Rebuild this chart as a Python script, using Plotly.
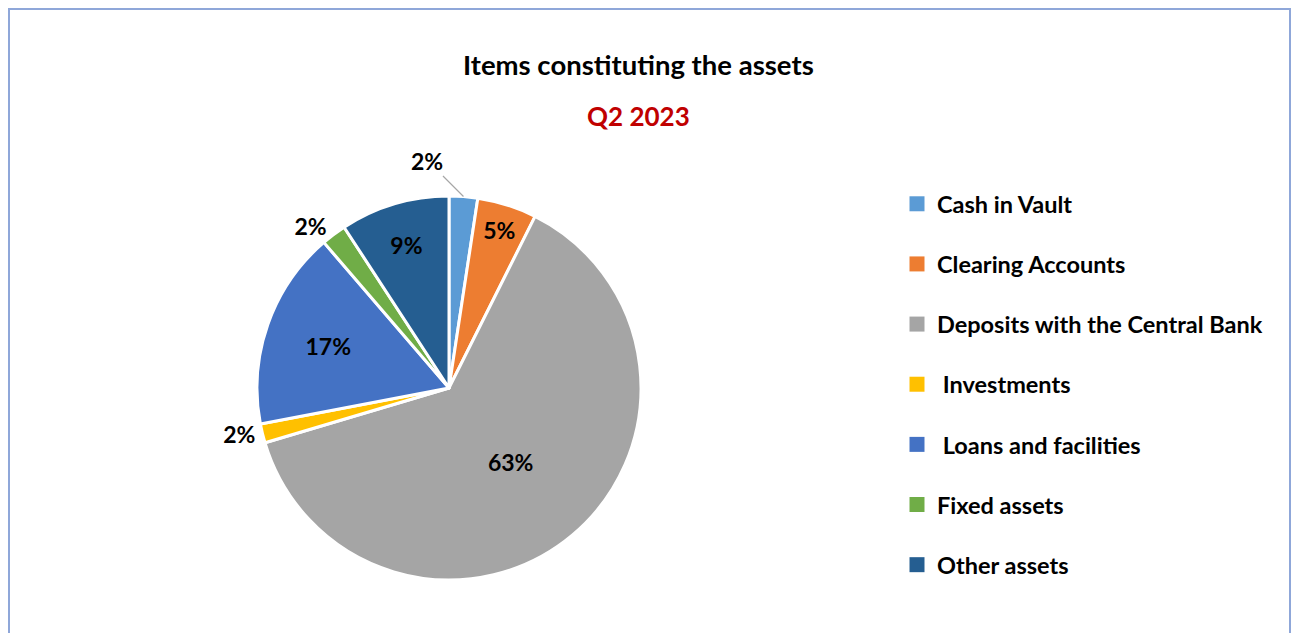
import math
import plotly.graph_objects as go

categories = ["Cash in Vault", "Clearing Accounts", "Deposits with the Central Bank",
              " Investments", " Loans and facilities", "Fixed assets", "Other assets"]
values = [2.4, 5.0, 63.0, 1.6, 16.7, 2.1, 9.2]
colors = ["#5B9BD5", "#ED7D31", "#A5A5A5", "#FFC000", "#4472C4", "#70AD47", "#255E91"]
text_positions = ["outside", "inside", "inside", "outside", "inside", "outside", "inside"]
callout_index = 0  # slice whose label sits on a leader line

# page has an 8px body margin around the figure
W, H = 1283, 625
FONT = "Lato"
CX, CY, R = 441, 380, 192

total = sum(values)
templates = ["<b>%{percent:.0%}</b>"] * len(values)
templates[callout_index] = ""

fig = go.Figure()
fig.add_trace(go.Pie(
    labels=categories, values=values, sort=False, direction="clockwise", rotation=0,
    marker=dict(colors=colors, line=dict(color="white", width=3)),
    texttemplate=templates, textposition=text_positions,
    insidetextorientation="horizontal",
    textfont=dict(family=FONT, size=23, color="black"),
    showlegend=False, hoverinfo="label+percent",
    domain=dict(x=[(CX - R) / W, (CX + R) / W], y=[1 - (CY + R) / H, 1 - (CY - R) / H]),
))

for cat, col in zip(categories, colors):
    fig.add_trace(go.Scatter(
        x=[None], y=[None], mode="markers", name="<b>" + cat + "</b>", legendgroup=cat,
        marker=dict(symbol="square", size=15, color=col), hoverinfo="skip",
    ))

# leader-line label for the small first slice, anchored at its mid-angle on the rim
start = sum(values[:callout_index]) / total
mid_angle = 2 * math.pi * (start + values[callout_index] / total / 2)
tip_x = CX + R * math.sin(mid_angle)
tip_y = CY - R * math.cos(mid_angle)
callout_text = "<b>%d%%</b>" % round(100 * values[callout_index] / total)

fig.update_layout(
    width=W, height=H, margin=dict(l=0, r=0, t=0, b=0),
    paper_bgcolor="white", plot_bgcolor="white",
    xaxis=dict(visible=False), yaxis=dict(visible=False),
    annotations=[
        dict(text="<b>Items constituting the assets</b>", x=630 / W, y=1 - 56 / H,
             xref="paper", yref="paper", xanchor="center", yanchor="middle", showarrow=False,
             font=dict(family=FONT, size=27.5, color="black")),
        dict(text="<b>Q2 2023</b>", x=630 / W, y=1 - 108 / H, xref="paper", yref="paper",
             xanchor="center", yanchor="middle", showarrow=False,
             font=dict(family=FONT, size=26, color="#C00000")),
        dict(text=callout_text, x=tip_x / W, y=1 - tip_y / H, xref="paper", yref="paper",
             showarrow=True, arrowhead=0, arrowwidth=1.2, arrowcolor="#A6A6A6",
             ax=-36, ay=-36, standoff=0,
             font=dict(family=FONT, size=23, color="black")),
    ],
    legend=dict(x=889 / W, y=1 - 174 / H, xanchor="left", yanchor="top",
                font=dict(family=FONT, size=23.5, color="black"),
                tracegroupgap=26.6, itemsizing="trace", bgcolor="rgba(0,0,0,0)"),
    shapes=[dict(type="rect", xref="paper", yref="paper",
                 x0=1 / W, x1=(W - 1) / W, y0=-0.1, y1=1 - 1 / H,
                 line=dict(color="#8FA7D9", width=2), fillcolor="rgba(0,0,0,0)", layer="below")],
)

fig.write_html("out.html")
